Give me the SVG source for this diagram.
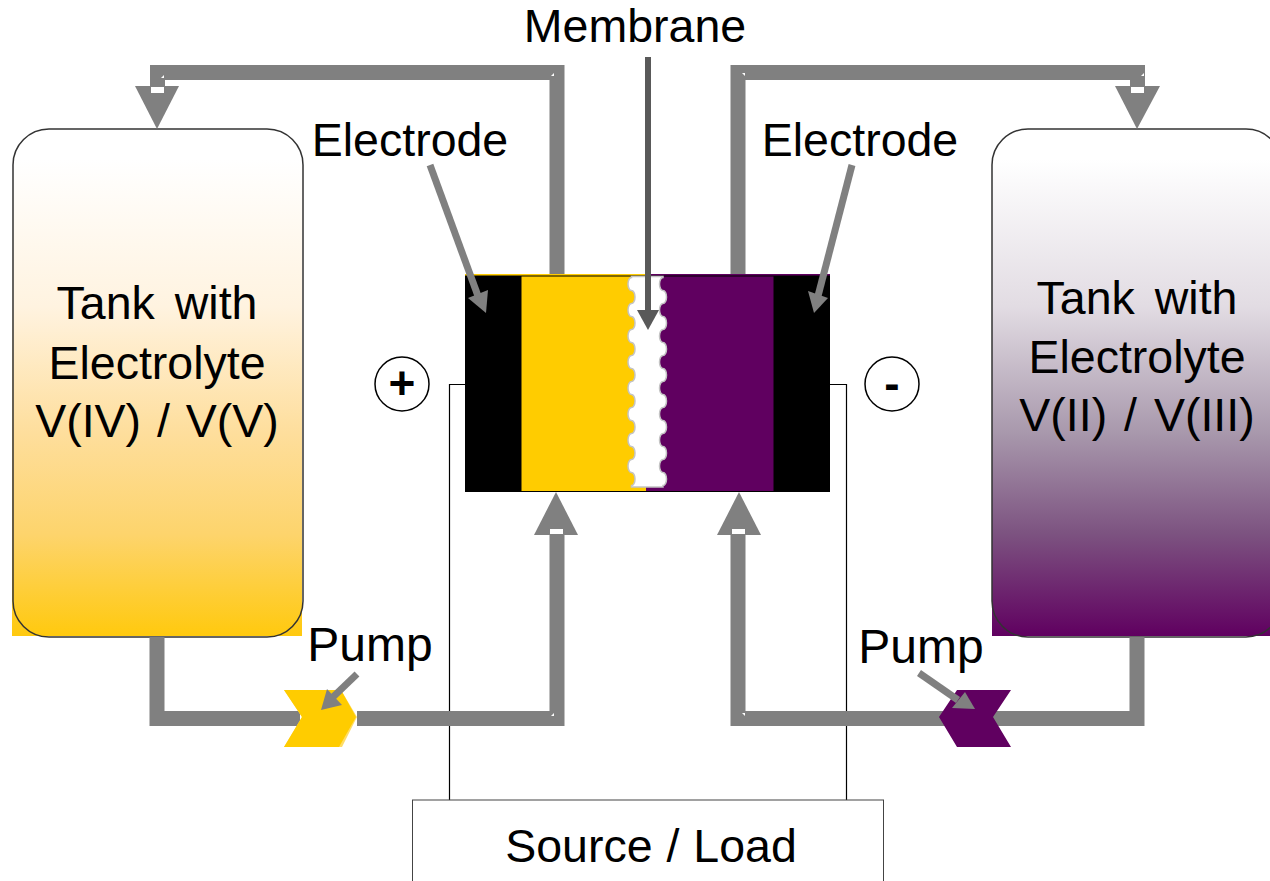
<svg xmlns="http://www.w3.org/2000/svg" width="1270" height="881" viewBox="0 0 1270 881">
<style>
text{font-family:"Liberation Sans",Arial,sans-serif;font-size:46.5px;fill:#000;text-anchor:middle}
.pipe{fill:none;stroke:#808080;stroke-width:15;stroke-linejoin:miter}
.head{fill:#808080}
.dash{fill:#fff}
.call{stroke:#808080;stroke-width:7;fill:none}
.wire{fill:none;stroke:#000;stroke-width:1.2}
.outline{fill:none;stroke:#333;stroke-width:1.5}
.sign{font-weight:bold;font-size:46px}
.pump{font-size:48px}
</style>
<defs>
<linearGradient id="gy" x1="0" y1="0" x2="0" y2="1">
<stop offset="0.06" stop-color="#fff"/><stop offset="0.35" stop-color="#FFF3E0"/><stop offset="0.6" stop-color="#FEDE9C"/><stop offset="0.8" stop-color="#FDD46C"/><stop offset="1" stop-color="#FFC90E"/>
</linearGradient>
<linearGradient id="gp" x1="0" y1="0" x2="0" y2="1">
<stop offset="0.06" stop-color="#fff"/><stop offset="0.35" stop-color="#E2DCE3"/><stop offset="0.6" stop-color="#A898AC"/><stop offset="0.8" stop-color="#7C5280"/><stop offset="1" stop-color="#600060"/>
</linearGradient>
</defs>
<g id="tank-left">
<rect x="12" y="129" width="290" height="507" fill="url(#gy)"/>
<rect x="13" y="129" width="290" height="508" rx="36" class="outline"/>
<text x="157" y="319" word-spacing="7">Tank with</text><text x="157" y="379">Electrolyte</text><text x="157" y="437" word-spacing="3">V(IV) / V(V)</text>
</g>
<g id="tank-right">
<rect x="992" y="129" width="278" height="507" fill="url(#gp)"/>
<rect x="992" y="129" width="290" height="508" rx="36" class="outline"/>
<text x="1137" y="314" word-spacing="7">Tank with</text><text x="1137" y="373">Electrolyte</text><text x="1137" y="431" word-spacing="4">V(II) / V(III)</text>
</g>
<g id="cell">
<rect x="465" y="274" width="180" height="3" fill="#FFCC00"/>
<rect x="645" y="274" width="185" height="3" fill="#600060"/>
<rect x="465" y="275.500" width="365" height="216.500" fill="#000"/>
<rect x="521.500" y="276.500" width="126" height="214.500" fill="#FFCC00"/>
<rect x="646" y="276.500" width="127.500" height="214.500" fill="#600060"/>
<path id="membrane" d="M631.500 276.500v1a3.500 6.500 0 0 0 0 13a3.500 6.500 0 0 1 0 13a3.500 6.500 0 0 0 0 13a3.500 6.500 0 0 1 0 13a3.500 6.500 0 0 0 0 13a3.500 6.500 0 0 1 0 13a3.500 6.500 0 0 0 0 13a3.500 6.500 0 0 1 0 13a3.500 6.500 0 0 0 0 13a3.500 6.500 0 0 1 0 13a3.500 6.500 0 0 0 0 13a3.500 6.500 0 0 1 0 13a3.500 6.500 0 0 0 0 13a3.500 6.500 0 0 1 0 13a3.500 6.500 0 0 0 0 13a3.500 6.500 0 0 1 0 13v1.500H663v-1.500a3.500 6.500 0 0 0 0 -13a3.500 6.500 0 0 1 0 -13a3.500 6.500 0 0 0 0 -13a3.500 6.500 0 0 1 0 -13a3.500 6.500 0 0 0 0 -13a3.500 6.500 0 0 1 0 -13a3.500 6.500 0 0 0 0 -13a3.500 6.500 0 0 1 0 -13a3.500 6.500 0 0 0 0 -13a3.500 6.500 0 0 1 0 -13a3.500 6.500 0 0 0 0 -13a3.500 6.500 0 0 1 0 -13a3.500 6.500 0 0 0 0 -13a3.500 6.500 0 0 1 0 -13a3.500 6.500 0 0 0 0 -13a3.500 6.500 0 0 1 0 -13v-1Z" fill="#fff" stroke="#C4C4C4" stroke-width="1.500"/>
</g>
<g id="connectors">
<path class="wire" d="M465 384.500H449.500V800"/>
<path class="wire" d="M830 384.500H846.500V800"/>
<path class="pipe" d="M557 274V72.500H157.500V90"/>
<path class="pipe" d="M738 274V72.500H1137.500V90"/>
<path class="pipe" d="M157 637V718.500H300"/>
<path class="pipe" d="M357 718.500H557V532"/>
<path class="pipe" d="M1137 637V718.500H985"/>
<path class="pipe" d="M945 718.500H738V532"/>
<polygon class="head" points="135,86 179,86 157,129"/>
<polygon class="head" points="1115,86 1160,86 1137,129"/>
<polygon class="head" points="534,535 578,535 556,492"/>
<polygon class="head" points="717,535 761,535 739,492"/>
<rect class="dash" x="151" y="87" width="13" height="6"/>
<rect class="dash" x="1131" y="87" width="13" height="6"/>
<rect class="dash" x="550" y="529" width="13" height="5"/>
<rect class="dash" x="732" y="529" width="13" height="5"/>
<polygon class="dash" points="161,78 164,75 164,78"/>
<polygon class="dash" points="551,76 554,73 554,76"/>
<polygon class="dash" points="742,73 745,73 745,76"/>
<polygon class="dash" points="1141,76 1144,73 1144,76"/>
<polygon class="dash" points="551,716 554,713 554,716"/>
<polygon class="dash" points="742,713 745,713 745,716"/>
<line class="call" x1="430" y1="165" x2="478" y2="296"/>
<polygon class="head" points="468,298 488,290 486,313"/>
<line class="call" x1="852" y1="165" x2="818" y2="296"/>
<polygon class="head" points="808,291 828,298 814,313"/>
<line x1="648" y1="57" x2="648" y2="312" stroke="#595959" stroke-width="6"/>
<polygon points="637,310 659,310 648,330" fill="#595959"/>
</g>
<g id="pump-left">
<polygon points="284,690 341,690 357,717 342,747 284,747 302,717" fill="#FFDD66"/>
<polygon points="284,690 341,690 356,717 339,747 284,747 302,717" fill="#FFCC00"/>
<line class="call" x1="357" y1="674" x2="333" y2="697"/>
<polygon class="head" points="327,689 342,705 321,710"/>
</g>
<g id="pump-right">
<polygon points="939,717 957,690 1011,690 993,717 1011,747 957,747" fill="#600060"/>
<line class="call" x1="919" y1="673" x2="958" y2="700"/>
<polygon class="head" points="952,708 965,692 975,709"/>
</g>
<g id="labels">
<text x="635" y="42">Membrane</text>
<text x="410" y="156">Electrode</text>
<text x="860" y="156">Electrode</text>
<text class="pump" x="370" y="661">Pump</text>
<text class="pump" x="921" y="663">Pump</text>
</g>
<g id="plus"><circle cx="402" cy="384" r="27" fill="#fff" stroke="#000" stroke-width="1.5"/><text class="sign" x="402" y="399">+</text></g>
<g id="minus"><circle cx="892" cy="384" r="27" fill="#fff" stroke="#000" stroke-width="1.5"/><text class="sign" x="892" y="399">-</text></g>
<g id="source-load"><rect x="412.500" y="800" width="471" height="90" fill="#fff" stroke="#444" stroke-width="1"/><text x="651" y="862" word-spacing="1">Source / Load</text></g>
</svg>
